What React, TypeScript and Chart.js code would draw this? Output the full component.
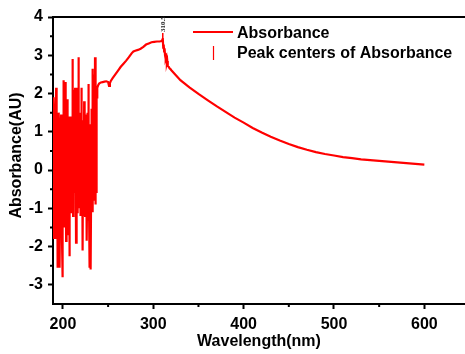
import React, { useEffect, useRef } from "react";
import { Chart, registerables } from "chart.js";

Chart.register(...registerables);

const noiseWavelengths = [
  189, 189.25, 189.5, 189.75, 190, 190.25, 190.5, 190.75, 191, 191.25,
  191.5, 191.75, 192, 192.25, 192.5, 192.75, 193, 193.25, 193.5, 193.75,
  194, 194.25, 194.5, 194.75, 195, 195.25, 195.5, 195.75, 196, 196.25,
  196.5, 196.75, 197, 197.25, 197.5, 197.75, 198, 198.25, 198.5, 198.75,
  199, 199.25, 199.5, 199.75, 200, 200.25, 200.5, 200.75, 201, 201.25,
  201.5, 201.75, 202, 202.25, 202.5, 202.75, 203, 203.25, 203.5, 203.75,
  204, 204.25, 204.5, 204.75, 205, 205.25, 205.5, 205.75, 206, 206.25,
  206.5, 206.75, 207, 207.25, 207.5, 207.75, 208, 208.25, 208.5, 208.75,
  209, 209.25, 209.5, 209.75, 210, 210.25, 210.5, 210.75, 211, 211.25,
  211.5, 211.75, 212, 212.25, 212.5, 212.75, 213, 213.25, 213.5, 213.75,
  214, 214.25, 214.5, 214.75, 215, 215.25, 215.5, 215.75, 216, 216.25,
  216.5, 216.75, 217, 217.25, 217.5, 217.75, 218, 218.25, 218.5, 218.75,
  219, 219.25, 219.5, 219.75, 220, 220.25, 220.5, 220.75, 221, 221.25,
  221.5, 221.75, 222, 222.25, 222.5, 222.75, 223, 223.25, 223.5, 223.75,
  224, 224.25, 224.5, 224.75, 225, 225.25, 225.5, 225.75, 226, 226.25,
  226.5, 226.75, 227, 227.25, 227.5, 227.75, 228, 228.25, 228.5, 228.75,
  229, 229.25, 229.5, 229.75, 230, 230.25, 230.5, 230.75, 231, 231.25,
  231.5, 231.75, 232, 232.25, 232.5, 232.75, 233, 233.25, 233.5, 233.75,
  234, 234.25, 234.5, 234.75, 235, 235.25, 235.5, 235.75, 236, 236.25,
  236.5, 236.75, 237, 237.25, 237.5, 237.75, 238,
];
const noiseAbsorbance = [
  1.9, -0.9, -1.8, 0.6, 1.85, 1.1, -0.5, -1.2, 1.2, 0.9,
  -1.8, -0.4, 0.8, 1.3, 2.15, 0.2, -1.2, -0.6, 1.0, 1.4,
  -2.1, -1.0, -2.55, -0.2, 0.6, -0.9, 1.5, 1.2, -0.8, 0.5,
  -2.55, -1.1, 1.3, 0.8, -1.4, 0.3, 1.45, -1.1, -0.3, 1.2,
  -1.9, 0.4, -2.8, -0.5, 0.9, 1.3, -1.0, -1.4, 2.35, 1.1,
  0.3, -0.8, -1.5, 0.4, 1.6, -0.3, 2.3, 1.0, -1.85, -0.6,
  0.5, 1.5, -1.1, -0.2, 1.85, 0.9, 0.2, -1.0, -1.7, 0.3,
  1.2, 1.4, -0.9, 0.6, -2.25, -0.7, 0.7, -1.1, 1.4, 0.1,
  -1.1, 1.3, 0.9, -0.9, -0.6, 1.0, 2.9, 1.4, 0.4, -1.2,
  -0.7, 0.8, 1.6, -0.5, 2.1, 0.9, -0.4, 1.2, 2.15, -0.6,
  0.1, 1.1, -1.9, -0.4, 1.2, 1.5, -0.8, -1.1, 2.15, 0.3,
  0.6, 1.3, -0.5, -1.0, 2.95, 1.2, 0.8, -0.6, -1.0, 0.9,
  1.5, 0.2, -0.6, -1.2, 0.7, 1.4, 2.15, -0.3, -0.9, 1.0,
  0.4, -1.4, -2.1, 0.5, 1.1, 1.3, -0.8, -1.2, 1.8, 0.7,
  0.3, -0.7, -1.2, 1.1, 1.45, -0.2, 0.2, 1.3, -1.5, 0.4,
  -1.85, -0.8, 0.9, 1.5, -0.3, -1.3, 2.25, 0.8, 0.5, -0.9,
  -1.3, 1.2, -2.55, -1.0, 1.1, 0.3, -0.6, -1.5, -2.6, -0.4,
  0.7, -0.9, 1.6, 0.5, 2.65, 1.2, -0.2, -1.1, 1.2, 0.6,
  0.0, -0.7, 2.5, 1.0, 1.0, -0.8, 2.95, 1.4, -0.3, -0.9,
  1.8, 0.4, -0.6, 1.1, 2.1, 1.9, 2.15,
];
const curveWavelengths = [
  239, 240, 242, 244, 246, 248, 250, 251, 252, 253,
  255, 258, 261, 264, 267, 270, 273, 276, 278, 280,
  283, 286, 289, 292, 295, 298, 301, 304, 307, 309,
  310, 310.5, 311, 311.5, 312, 312.5, 313, 313.5, 314, 314.5,
  315, 315.5, 316, 317, 318, 319, 320, 325, 330, 340,
  350, 360, 370, 380, 390, 400, 410, 420, 430, 440,
  450, 460, 470, 480, 490, 500, 510, 520, 530, 540,
  550, 560, 570, 580, 590, 600,
];
const curveAbsorbance = [
  2.22, 2.26, 2.29, 2.3, 2.31, 2.32, 2.3, 2.2, 2.27, 2.33,
  2.4, 2.5, 2.6, 2.7, 2.78, 2.86, 2.95, 3.05, 3.1, 3.12,
  3.14, 3.17, 3.22, 3.28, 3.31, 3.34, 3.35, 3.36, 3.36, 3.37,
  3.4, 3.45, 3.2, 3.28, 3.1, 3.18, 3.0, 3.05, 2.9, 2.95,
  2.8, 2.85, 2.72, 2.7, 2.66, 2.64, 2.61, 2.48, 2.35, 2.16,
  1.99, 1.83, 1.67, 1.52, 1.37, 1.24, 1.1, 0.98, 0.87, 0.77,
  0.68, 0.6, 0.53, 0.47, 0.42, 0.38, 0.34, 0.31, 0.28, 0.26,
  0.24, 0.22, 0.2, 0.18, 0.16, 0.14,
];
const peakCenters = [310.5];
const peakValues = [3.45];
const peakMarkerTops = [3.58];
const peakLabels = ["310.5"];

const xTicks = [200, 300, 400, 500, 600];
const xMinorTicks = [250, 350, 450, 550];
const yTicks = [-3, -2, -1, 0, 1, 2, 3, 4];
const yMinorTicks = [-2.5, -1.5, -0.5, 0.5, 1.5, 2.5, 3.5];

const seriesName = "Absorbance";
const peakSeriesName = "Peak centers of Absorbance";
const xTitle = "Wavelength(nm)";
const yTitle = "Absorbance(AU)";

const FONT = "'Liberation Sans', Arial, sans-serif";
const RED = "#ff0000";

export default function App() {
  const ref = useRef<HTMLCanvasElement | null>(null);

  useEffect(() => {
    if (!ref.current) return;
    const wl = [...noiseWavelengths, ...curveWavelengths];
    const ab = [...noiseAbsorbance, ...curveAbsorbance];
    const points = wl.map((x, i) => ({ x, y: ab[i] }));

    const decor = {
      id: "decor",
      afterDraw(chart: any) {
        const ctx = chart.ctx;
        const { left, right, top, bottom } = chart.chartArea;
        const xs = chart.scales.x;
        const ys = chart.scales.y;
        ctx.save();
        ctx.strokeStyle = "#000";
        ctx.lineWidth = 2;
        ctx.beginPath();
        ctx.moveTo(left - 1, top);
        ctx.lineTo(right, top);
        ctx.stroke();
        ctx.beginPath();
        xMinorTicks.forEach((v) => {
          const px = xs.getPixelForValue(v);
          ctx.moveTo(px, bottom);
          ctx.lineTo(px, bottom + 3);
        });
        yMinorTicks.forEach((v) => {
          const py = ys.getPixelForValue(v);
          ctx.moveTo(left, py);
          ctx.lineTo(left - 3, py);
        });
        ctx.stroke();

        peakCenters.forEach((c, i) => {
          const px = xs.getPixelForValue(c);
          const y0 = ys.getPixelForValue(peakValues[i]);
          const y1 = ys.getPixelForValue(peakMarkerTops[i]);
          ctx.strokeStyle = RED;
          ctx.lineWidth = 1.5;
          ctx.beginPath();
          ctx.moveTo(px, y0);
          ctx.lineTo(px, y1);
          ctx.stroke();
          ctx.save();
          ctx.translate(px, y1 - 1);
          ctx.rotate(-Math.PI / 2);
          ctx.fillStyle = "#222";
          ctx.font = "bold 7px 'Liberation Serif', serif";
          ctx.textAlign = "left";
          ctx.textBaseline = "middle";
          ctx.fillText(peakLabels[i], 0, 0);
          ctx.restore();
        });

        ctx.fillStyle = "#000";
        ctx.font = `bold 16px ${FONT}`;
        ctx.textAlign = "center";
        ctx.textBaseline = "alphabetic";
        ctx.fillText(xTitle, (left + 465) / 2, 346);
        ctx.save();
        ctx.translate(17, 155.5);
        ctx.rotate(-Math.PI / 2);
        ctx.textBaseline = "middle";
        ctx.fillText(yTitle, 0, 0);
        ctx.restore();

        ctx.strokeStyle = RED;
        ctx.lineWidth = 2;
        ctx.beginPath();
        ctx.moveTo(193, 32);
        ctx.lineTo(233, 32);
        ctx.stroke();
        ctx.strokeStyle = RED;
        ctx.lineWidth = 1.2;
        ctx.beginPath();
        ctx.moveTo(213.5, 46);
        ctx.lineTo(213.5, 60);
        ctx.stroke();
        ctx.fillStyle = "#000";
        ctx.font = `bold 16px ${FONT}`;
        ctx.textAlign = "left";
        ctx.textBaseline = "alphabetic";
        ctx.fillText(seriesName, 237, 38);
        ctx.fillText(peakSeriesName, 237, 58);
        ctx.restore();
      },
    };

    const chart = new Chart(ref.current, {
      type: "line",
      data: {
        datasets: [
          {
            label: seriesName,
            data: points,
            borderColor: RED,
            backgroundColor: RED,
            borderWidth: 2.2,
            pointRadius: 0,
            tension: 0,
          },
        ],
      },
      options: {
        animation: false,
        responsive: false,
        maintainAspectRatio: false,
        events: [],
        layout: { padding: { top: 17, left: 0, right: 0, bottom: 0 } },
        plugins: {
          legend: { display: false },
          tooltip: { enabled: false },
          title: { display: false },
        },
        scales: {
          x: {
            type: "linear",
            min: 189,
            max: 645,
            afterFit(s: any) {
              s.height = 50;
            },
            afterBuildTicks(s: any) {
              s.ticks = xTicks.map((v) => ({ value: v }));
            },
            grid: {
              drawOnChartArea: false,
              drawTicks: true,
              tickLength: 5,
              tickWidth: 2,
              tickColor: "#000",
            },
            border: { display: true, color: "#000", width: 2 },
            ticks: {
              color: "#000",
              padding: 6,
              maxRotation: 0,
              autoSkip: false,
              font: { family: FONT, size: 16, weight: "bold" },
            },
          },
          y: {
            type: "linear",
            min: -3.5,
            max: 4,
            afterFit(s: any) {
              s.width = 53;
            },
            afterBuildTicks(s: any) {
              s.ticks = yTicks.map((v) => ({ value: v }));
            },
            grid: {
              drawOnChartArea: false,
              drawTicks: true,
              tickLength: 5,
              tickWidth: 2,
              tickColor: "#000",
            },
            border: { display: true, color: "#000", width: 2 },
            ticks: {
              color: "#000",
              padding: 5,
              autoSkip: false,
              font: { family: FONT, size: 16, weight: "bold" },
            },
          },
        },
      },
      plugins: [decor],
    });
    return () => chart.destroy();
  }, []);

  return (
    <div style={{ position: "absolute", left: 0, top: 0, width: 465, height: 354, background: "#fff" }}>
      <canvas ref={ref} width={465} height={354} style={{ width: 465, height: 354 }} />
    </div>
  );
}
